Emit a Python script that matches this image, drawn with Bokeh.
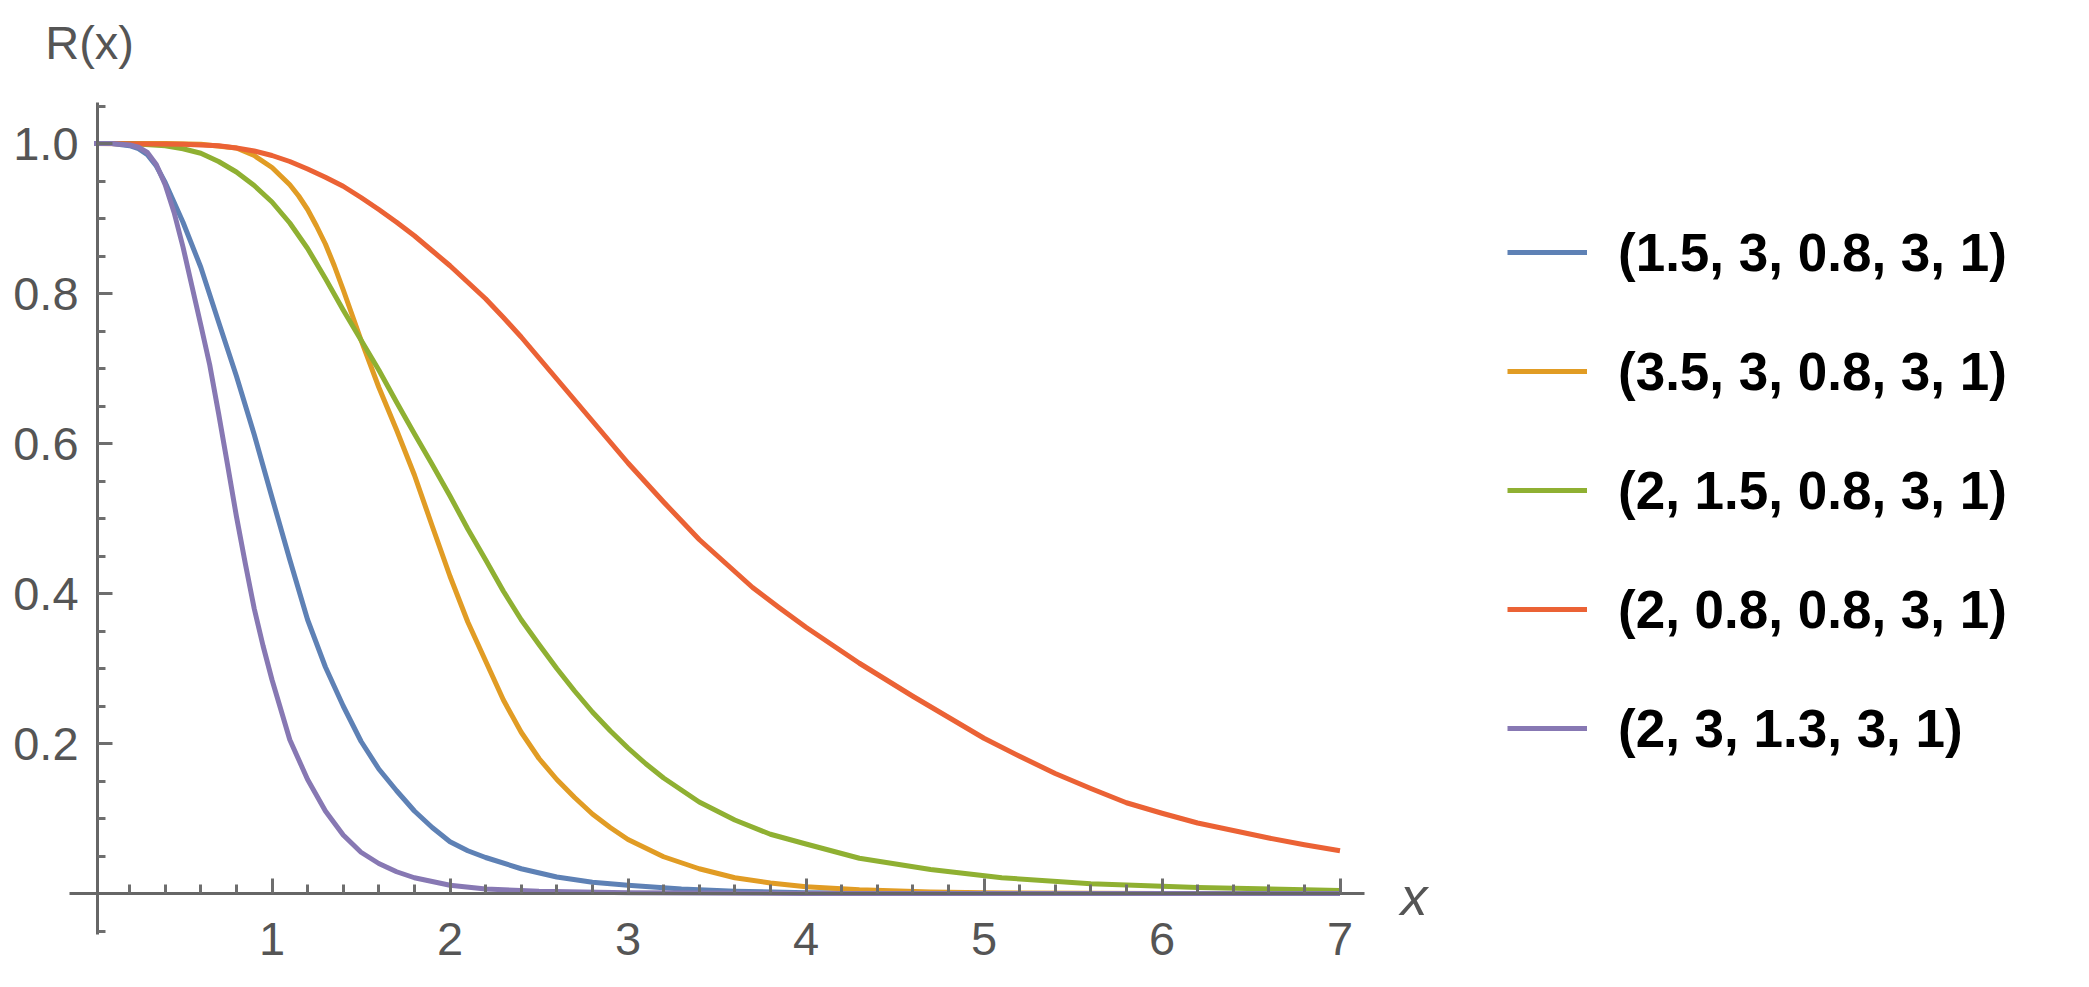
from bokeh.plotting import figure
from bokeh.models import FixedTicker, Legend, LegendItem, CustomLabelingPolicy
from bokeh.core.properties import value
from bokeh.embed import file_html
from bokeh.resources import INLINE

# ---------------- data ----------------
legend_labels = [
    "(1.5, 3, 0.8, 3, 1)",
    "(3.5, 3, 0.8, 3, 1)",
    "(2, 1.5, 0.8, 3, 1)",
    "(2, 0.8, 0.8, 3, 1)",
    "(2, 3, 1.3, 3, 1)",
]
colors = ["#5E81B5", "#E19C24", "#8FB032", "#EB6235", "#8778B3"]

blue_x = [0, 0.1, 0.2, 0.25, 0.3, 0.35, 0.4, 0.5, 0.6, 0.7, 0.8, 0.9, 1.0, 1.1, 1.2,
          1.3, 1.4, 1.5, 1.6, 1.7, 1.8, 1.9, 2.0, 2.1, 2.2, 2.4, 2.6, 2.8, 3.0, 3.3,
          3.6, 4.0, 5.0, 6.0, 7.0]
blue_y = [1.0, 1.0, 0.997, 0.993, 0.985, 0.97, 0.948, 0.895, 0.835, 0.762, 0.69, 0.612,
          0.528, 0.445, 0.365, 0.302, 0.25, 0.203, 0.166, 0.137, 0.11, 0.088, 0.069,
          0.057, 0.048, 0.033, 0.022, 0.015, 0.011, 0.006, 0.003, 0.001, 0.0, 0.0, 0.0]

orange_x = [0, 0.4, 0.6, 0.8, 0.9, 1.0, 1.1, 1.15, 1.2, 1.25, 1.3, 1.35, 1.4, 1.5, 1.6,
            1.7, 1.8, 1.9, 2.0, 2.1, 2.2, 2.3, 2.4, 2.5, 2.6, 2.7, 2.8, 2.9, 3.0, 3.2,
            3.4, 3.6, 3.8, 4.0, 4.3, 4.7, 5.0, 6.0, 7.0]
orange_y = [1.0, 1.0, 0.999, 0.994, 0.984, 0.968, 0.945, 0.93, 0.912, 0.89, 0.866, 0.837,
            0.805, 0.738, 0.675, 0.618, 0.558, 0.49, 0.423, 0.362, 0.31, 0.258, 0.215,
            0.18, 0.152, 0.128, 0.106, 0.088, 0.072, 0.049, 0.033, 0.021, 0.014, 0.009,
            0.005, 0.002, 0.001, 0.0, 0.0]

green_x = [0, 0.2, 0.4, 0.5, 0.6, 0.7, 0.8, 0.9, 1.0, 1.1, 1.2, 1.3, 1.4, 1.5, 1.6, 1.7,
           1.8, 1.9, 2.0, 2.1, 2.2, 2.3, 2.4, 2.5, 2.6, 2.7, 2.8, 2.9, 3.0, 3.1, 3.2,
           3.4, 3.6, 3.8, 4.0, 4.3, 4.7, 5.1, 5.6, 6.2, 7.0]
green_y = [1.0, 1.0, 0.997, 0.993, 0.987, 0.976, 0.962, 0.944, 0.922, 0.894, 0.86, 0.82,
           0.778, 0.738, 0.698, 0.655, 0.613, 0.572, 0.53, 0.486, 0.445, 0.403, 0.365,
           0.332, 0.3, 0.27, 0.242, 0.217, 0.194, 0.173, 0.154, 0.122, 0.098, 0.079,
           0.066, 0.047, 0.032, 0.021, 0.013, 0.008, 0.004]

red_x = [0, 0.5, 0.6, 0.7, 0.8, 0.9, 1.0, 1.1, 1.2, 1.3, 1.4, 1.5, 1.6, 1.7, 1.8, 1.9,
         2.0, 2.1, 2.2, 2.3, 2.4, 2.5, 2.6, 2.7, 2.8, 2.9, 3.0, 3.1, 3.2, 3.3, 3.4, 3.55,
         3.7, 3.85, 4.0, 4.15, 4.3, 4.45, 4.6, 4.8, 5.0, 5.2, 5.4, 5.6, 5.8, 6.0, 6.2,
         6.4, 6.6, 6.8, 7.0]
red_y = [1.0, 0.999, 0.998, 0.997, 0.994, 0.99, 0.984, 0.976, 0.966, 0.955, 0.943, 0.928,
         0.912, 0.895, 0.877, 0.857, 0.837, 0.815, 0.793, 0.768, 0.742, 0.714, 0.686,
         0.658, 0.63, 0.602, 0.574, 0.548, 0.522, 0.497, 0.472, 0.44, 0.408, 0.381,
         0.355, 0.331, 0.307, 0.285, 0.263, 0.235, 0.207, 0.183, 0.16, 0.14, 0.121,
         0.107, 0.094, 0.084, 0.074, 0.065, 0.057]

purple_x = [0, 0.1, 0.2, 0.25, 0.3, 0.35, 0.4, 0.45, 0.5, 0.55, 0.6, 0.65, 0.7, 0.75, 0.8,
            0.85, 0.9, 0.95, 1.0, 1.1, 1.2, 1.3, 1.4, 1.5, 1.6, 1.7, 1.8, 2.0, 2.2, 2.5,
            3.0, 4.0, 5.0, 6.0, 7.0]
purple_y = [1.0, 1.0, 0.998, 0.995, 0.988, 0.972, 0.945, 0.908, 0.862, 0.81, 0.758, 0.705,
            0.64, 0.572, 0.503, 0.44, 0.38, 0.33, 0.285, 0.205, 0.152, 0.11, 0.078, 0.055,
            0.04, 0.029, 0.021, 0.011, 0.006, 0.003, 0.001, 0.0, 0.0, 0.0, 0.0]

series_x = [blue_x, orange_x, green_x, red_x, purple_x]
series_y = [blue_y, orange_y, green_y, red_y, purple_y]

x_ticks = [1, 2, 3, 4, 5, 6, 7]
x_tick_labels = ["1", "2", "3", "4", "5", "6", "7"]
y_ticks = [0.2, 0.4, 0.6, 0.8, 1.0]
y_tick_labels = ["0.2", "0.4", "0.6", "0.8", "1.0"]
x_minor = [round(0.2 * i, 2) for i in range(1, 35) if i % 5 != 0]
y_minor = [round(-0.05 + 0.05 * i, 2) for i in range(0, 23) if i % 4 != 1]

x_axis_bounds = (-0.14, 7.14)
y_axis_bounds = (-0.055, 1.055)
y_axis_at = 0.02

# ---------------- layout ----------------
W, H = 2073, 971
BORDER = 10
PX_PER_X = 178.0      # pixels per x unit
PX_PER_Y = 750.0      # pixels per y unit
X0_PAGE = 101.5       # page x of x=0
Y0_PAGE = 901.0       # page y of y=0
frame_left = 8 + BORDER
frame_right = 8 + W - BORDER
frame_top = 8 + BORDER
frame_bottom = 8 + H - BORDER
xr = ((frame_left - X0_PAGE) / PX_PER_X, (frame_right - X0_PAGE) / PX_PER_X)
yr = ((Y0_PAGE - frame_bottom) / PX_PER_Y, (Y0_PAGE - frame_top) / PX_PER_Y)

p = figure(width=W, height=H, output_backend="svg", toolbar_location=None,
           x_range=xr, y_range=yr,
           min_border_left=BORDER, min_border_right=BORDER,
           min_border_top=BORDER, min_border_bottom=BORDER)
p.xgrid.visible = False
p.ygrid.visible = False
p.outline_line_color = None
p.background_fill_color = "white"
p.border_fill_color = "white"

AXIS_COLOR = "#666666"
TICK_COLOR = "#6e6e6e"
LABEL_COLOR = "#555555"

xa = p.xaxis[0]
xa.fixed_location = 0
xa.bounds = x_axis_bounds
xa.ticker = FixedTicker(ticks=x_ticks, minor_ticks=x_minor)
ya = p.yaxis[0]
ya.fixed_location = y_axis_at
ya.bounds = y_axis_bounds
ya.ticker = FixedTicker(ticks=y_ticks, minor_ticks=y_minor)
for ax in (xa, ya):
    ax.axis_line_color = AXIS_COLOR
    ax.axis_line_width = 3
    ax.major_tick_line_color = TICK_COLOR
    ax.major_tick_line_width = 3
    ax.minor_tick_line_color = TICK_COLOR
    ax.minor_tick_line_width = 3
    ax.major_tick_out = 0
    ax.minor_tick_out = 0
    ax.major_label_text_font_size = "0px"
    ax.major_label_standoff = 0
    # tick labels are drawn as text glyphs below; the axis itself draws none
    ax.major_label_policy = CustomLabelingPolicy(code="return []")
xa.major_tick_in = 15
xa.minor_tick_in = 9
ya.major_tick_in = 15
ya.minor_tick_in = 8

# curves
renderers = []
for xs, ys, c in zip(series_x, series_y, colors):
    r = p.line(xs, ys, line_color=c, line_width=5, line_join="round")
    renderers.append(r)

# tick labels
FONT = value("Liberation Sans")
p.text(x=[y_axis_at] * len(y_ticks), y=y_ticks, text=y_tick_labels,
       x_offset=-19, text_align="right", text_baseline="middle",
       text_font=FONT, text_font_size="47px", text_color=LABEL_COLOR)
p.text(x=x_ticks, y=[0] * len(x_ticks), text=x_tick_labels,
       y_offset=45, text_align="center", text_baseline="middle",
       text_font=FONT, text_font_size="47px", text_color=LABEL_COLOR)

# axis labels
p.text(x=[y_axis_at], y=[y_axis_bounds[1]], text=["R(x)"],
       x_offset=-8, y_offset=-60, text_align="center", text_baseline="middle",
       text_font=FONT, text_font_size="47px", text_color=LABEL_COLOR)
p.text(x=[x_axis_bounds[1]], y=[0], text=["x"],
       x_offset=49, y_offset=2, text_align="center", text_baseline="middle",
       text_font=FONT, text_font_style="italic", text_font_size="54px",
       text_color=LABEL_COLOR)

# legend
items = [LegendItem(label=lab, renderers=[r]) for lab, r in zip(legend_labels, renderers)]
legend = Legend(items=items, location=(1515 - frame_left, frame_bottom - 776),
                orientation="vertical",
                glyph_width=80, glyph_height=80, label_height=80, spacing=39,
                label_standoff=31, padding=0, margin=0,
                border_line_color=None, background_fill_alpha=0,
                label_text_font="Liberation Sans", label_text_font_style="bold",
                label_text_font_size="53px", label_text_color="black")
p.add_layout(legend)

open("out.html", "w").write(file_html(p, INLINE))
